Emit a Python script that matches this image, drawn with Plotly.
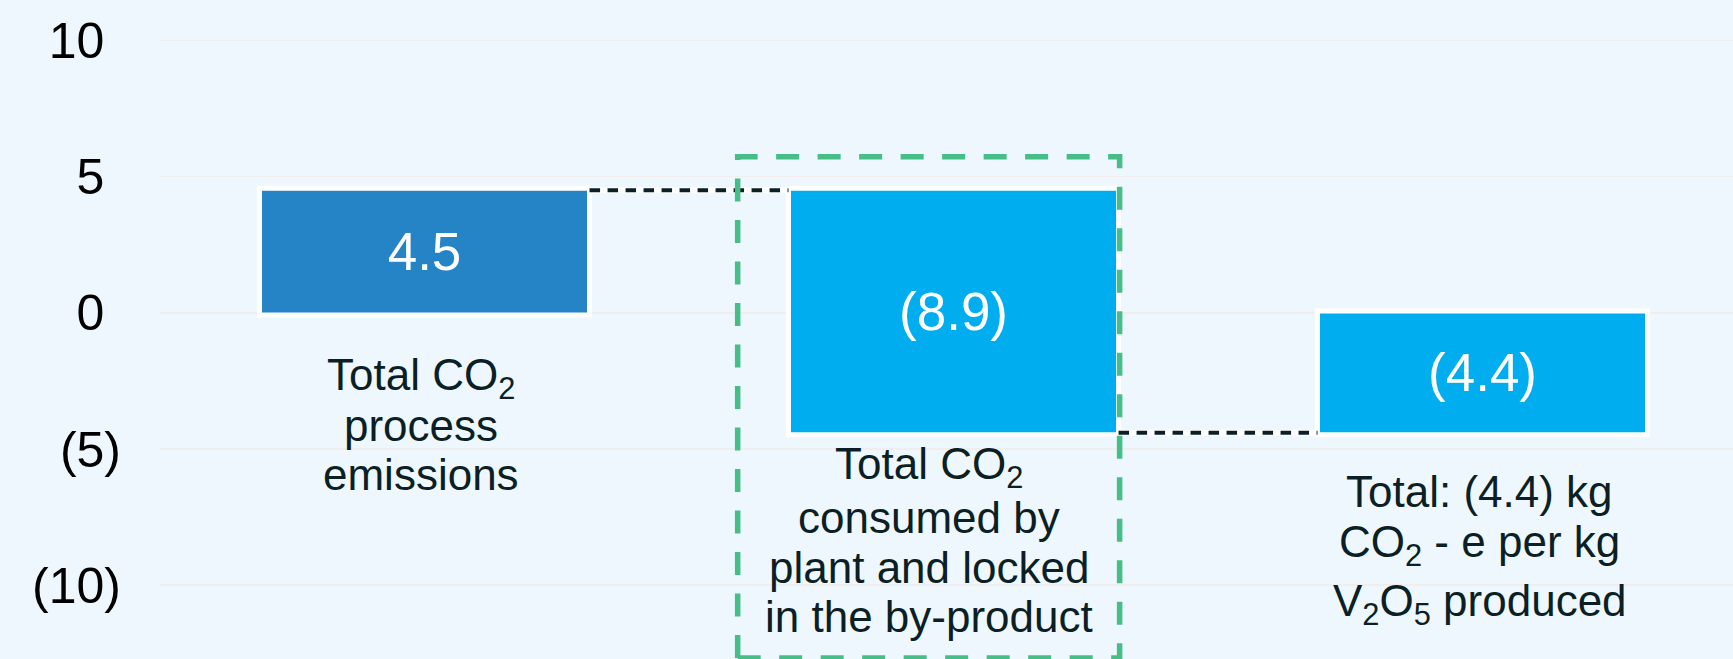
import plotly.graph_objects as go

# ---- data ----
categories = ["Process emissions", "Consumed and locked", "Total"]
measures = ["relative", "relative", "total"]
values = [4.5, -8.9, 0]
label_lines = [
    ["Total CO<sub>2</sub>", "process", "emissions"],
    ["Total CO<sub>2</sub>", "consumed by", "plant and locked", "in the by-product"],
    ["Total: (4.4) kg", "CO<sub>2</sub> - e per kg", "V<sub>2</sub>O<sub>5</sub> produced"],
]
tick_vals = [-10, -5, 0, 5, 10]


def fmt(v):
    return f"({abs(v):.1f})" if v < 0 else f"{v:.1f}"


total = round(sum(v for v, m in zip(values, measures) if m == "relative"), 1)
bar_text = [fmt(v) if m != "total" else fmt(total) for v, m in zip(values, measures)]

HIDE = '<span style="color:rgba(0,0,0,0)">)</span>'
tick_text = [fmt(t).replace(".0", "") if t < 0 else f"{t}{HIDE}" for t in tick_vals]

# ---- style ----
BG = "#EEF7FD"
DARK = "#0B1F24"
BLUE1 = "#2584C6"
CYAN = "#00AEEF"
GREEN = "#45BE87"
FONT = "Arial, Liberation Sans, sans-serif"
W, H = 1733, 659
BAR_W = 0.624

fig = go.Figure()
fig.add_trace(go.Waterfall(
    x=categories,
    measure=measures,
    y=values,
    width=[BAR_W] * len(categories),
    text=bar_text,
    textinfo="text",
    textposition="inside",
    insidetextanchor="middle",
    constraintext="none",
    textfont=dict(color="white", size=53, family=FONT),
    increasing=dict(marker=dict(color=BLUE1, line=dict(color="white", width=5))),
    decreasing=dict(marker=dict(color=CYAN, line=dict(color="white", width=5))),
    totals=dict(marker=dict(color=CYAN, line=dict(color="white", width=5))),
    connector=dict(mode="between", line=dict(color=DARK, width=4, dash="10.5px,7.5px")),
    hoverinfo="skip",
    showlegend=False,
))

# white underlay under connectors (from cumulative data levels)
shapes = []
cum = 0
levels = []
for v, m in zip(values, measures):
    if m == "total":
        levels.append(cum)
    else:
        cum += v
        levels.append(cum)
for i in range(len(categories) - 1):
    shapes.append(dict(type="line", xref="x", yref="y", layer="below",
                       x0=i + BAR_W / 2, x1=i + 1 - BAR_W / 2,
                       y0=levels[i], y1=levels[i],
                       line=dict(color="white", width=6)))

# green dashed highlight box around the second bar
shapes.append(dict(type="rect", xref="x", yref="y", layer="above",
                   x0=0.592, x1=1.314, y0=-12.67, y1=5.73,
                   line=dict(color=GREEN, width=5.5, dash="23px,18.5px"),
                   fillcolor="rgba(0,0,0,0)"))

# category labels: one annotation per line
line_centers = [[378, 426, 474], [467, 517, 567, 616], [492, 545, 604]]
xshifts = [-4, -25, -3]
annotations = []
for ci, lines in enumerate(label_lines):
    for li, txt in enumerate(lines):
        annotations.append(dict(
            x=categories[ci], xref="x", xshift=xshifts[ci],
            y=1 - line_centers[ci][li] / H, yref="paper", yanchor="middle",
            text=txt, showarrow=False,
            font=dict(size=44, color=DARK, family=FONT),
        ))

fig.update_layout(
    width=W, height=H,
    margin=dict(l=160, r=0, t=0, b=0),
    paper_bgcolor=BG, plot_bgcolor=BG,
    shapes=shapes, annotations=annotations,
    font=dict(family=FONT, color="black"),
    xaxis=dict(range=[-0.5, 2.4735], showticklabels=False, showgrid=False,
               zeroline=False, showline=False, ticks=""),
    yaxis=dict(range=[-12.71, 11.49], tickvals=tick_vals, ticktext=tick_text,
               tickfont=dict(size=50, color="black", family=FONT),
               showgrid=True, gridcolor="#F1EDED", gridwidth=1.5,
               zeroline=False, showline=False, ticks="", ticklabelstandoff=38),
)

fig.write_html(
    "out.html",
    config={"displayModeBar": False, "staticPlot": True},
    post_script=("document.body.style.margin='0';document.body.style.padding='0';"
                 "document.body.style.background='" + BG + "';"
                 "document.body.style.overflow='hidden';"),
)
